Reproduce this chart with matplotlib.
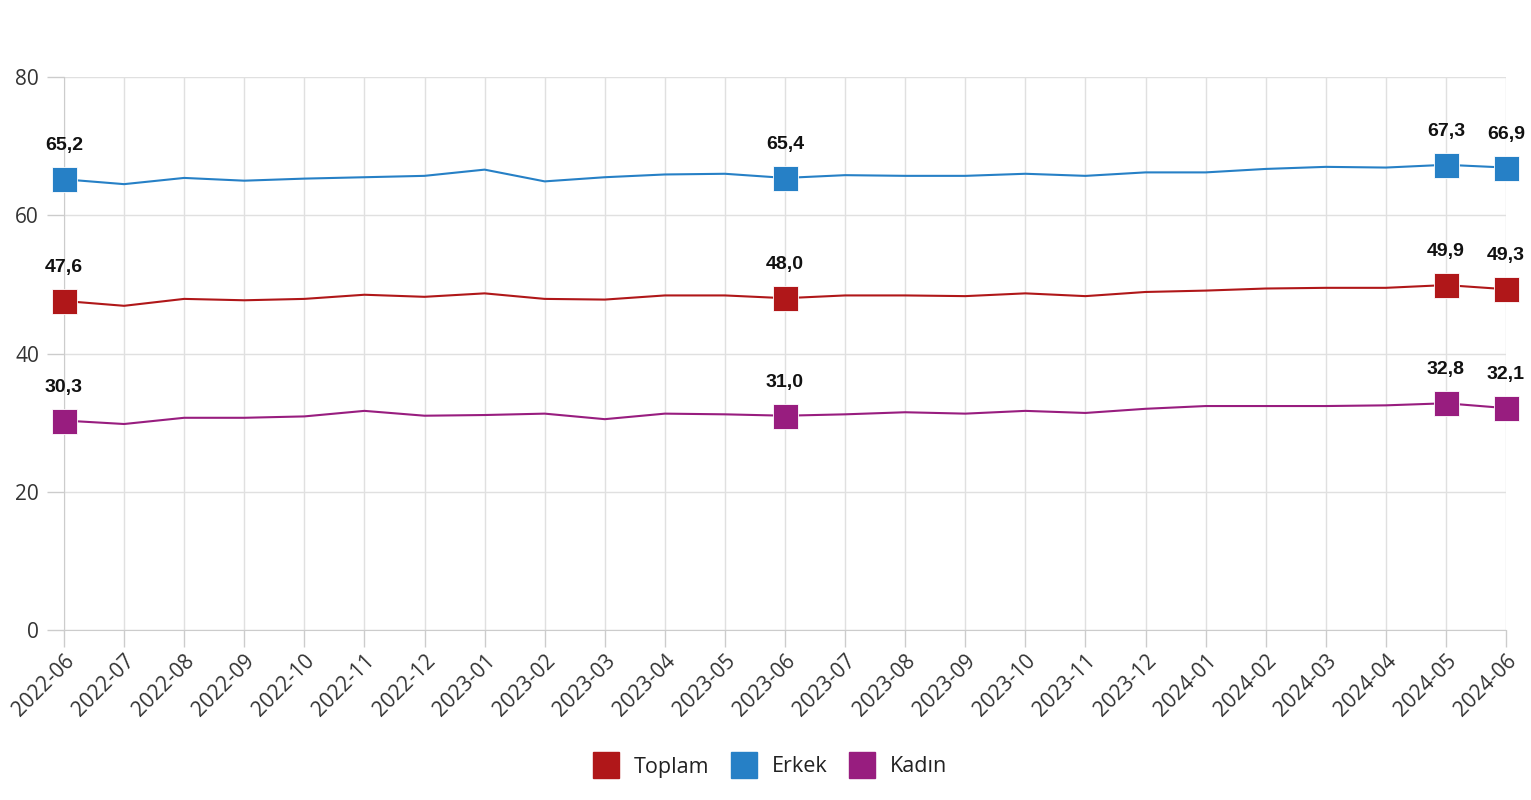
import matplotlib
matplotlib.use("Agg")
import matplotlib.pyplot as plt
from matplotlib.lines import Line2D

months = ["2022-06", "2022-07", "2022-08", "2022-09", "2022-10", "2022-11", "2022-12",
          "2023-01", "2023-02", "2023-03", "2023-04", "2023-05", "2023-06", "2023-07",
          "2023-08", "2023-09", "2023-10", "2023-11", "2023-12", "2024-01", "2024-02",
          "2024-03", "2024-04", "2024-05", "2024-06"]

toplam = [47.6, 46.9, 47.9, 47.7, 47.9, 48.5, 48.2, 48.7, 47.9, 47.8, 48.4, 48.4, 48.0,
          48.4, 48.4, 48.3, 48.7, 48.3, 48.9, 49.1, 49.4, 49.5, 49.5, 49.9, 49.3]
erkek = [65.2, 64.5, 65.4, 65.0, 65.3, 65.5, 65.7, 66.6, 64.9, 65.5, 65.9, 66.0, 65.4,
         65.8, 65.7, 65.7, 66.0, 65.7, 66.2, 66.2, 66.7, 67.0, 66.9, 67.3, 66.9]
kadin = [30.3, 29.8, 30.7, 30.7, 30.9, 31.7, 31.0, 31.1, 31.3, 30.5, 31.3, 31.2, 31.0,
         31.2, 31.5, 31.3, 31.7, 31.4, 32.0, 32.4, 32.4, 32.4, 32.5, 32.8, 32.1]

series_names = ["Toplam", "Erkek", "Kadın"]
colors = ["#b01719", "#2680c6", "#981d7f"]
labeled_idx = [0, 12, 23, 24]
yticks = [0, 20, 40, 60, 80]

plt.rcParams['font.family'] = ['Open Sans', 'DejaVu Sans']

fig = plt.figure(figsize=(15.31, 8.0), dpi=100)
ax = fig.add_axes([64 / 1531, 1 - 630 / 800, (1506 - 64) / 1531, (630 - 77) / 800])

x = list(range(len(months)))
for vals, c in zip([toplam, erkek, kadin], colors):
    ax.plot(x, vals, color=c, lw=1.5, zorder=3)
    mx = [x[i] for i in labeled_idx]
    my = [vals[i] for i in labeled_idx]
    ax.plot(mx, my, ls="none", marker="s", markersize=18, color=c,
            markeredgecolor="white", markeredgewidth=0.6, zorder=4, clip_on=False)
    for i in labeled_idx:
        ax.annotate(f"{vals[i]:.1f}".replace(".", ","), (x[i], vals[i]),
                    xytext=(0, 18), textcoords="offset points", ha="center", va="bottom",
                    fontsize=14, fontweight="bold", color="#111111",
                    family=["Liberation Sans", "DejaVu Sans"])

ax.set_xlim(0, len(months) - 1)
ax.set_ylim(0, 80)
ax.set_yticks(yticks)
ax.set_xticks(x)
ax.set_xticklabels(months, rotation=45, ha="right", rotation_mode="anchor")
ax.grid(True, color="#e0e0e0", lw=1, zorder=0)
for s in ["top", "right"]:
    ax.spines[s].set_visible(False)
ax.spines["left"].set_color("#cccccc")
ax.spines["bottom"].set_color("#cccccc")
ax.tick_params(axis="both", colors="#cccccc", labelcolor="#333333", labelsize=15,
               length=12, width=1)
ax.tick_params(axis="x", pad=3)
ax.tick_params(axis="y", pad=6)

handles = [Line2D([], [], ls="none", marker="s", markersize=19, color=c) for c in colors]
fig.legend(handles, series_names, loc="center", bbox_to_anchor=(0.5, 1 - 767 / 800),
           ncol=3, frameon=False, fontsize=15.5, handletextpad=0.3, columnspacing=0.6,
           labelcolor="#222222")

fig.savefig("out.png", dpi=100)
